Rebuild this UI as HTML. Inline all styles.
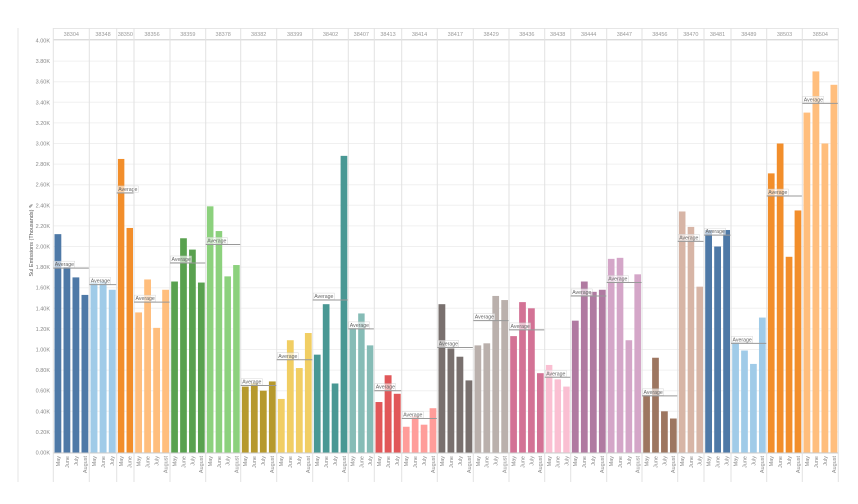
<!DOCTYPE html>
<html><head><meta charset="utf-8">
<style>
html,body{margin:0;padding:0;background:#fff;}
svg{display:block;font-family:"Liberation Sans",sans-serif;}
</style></head>
<body>
<svg id="c" width="858" height="504" viewBox="0 0 858 504" xmlns="http://www.w3.org/2000/svg"></svg>
<script>
const groups=[
["38304",53.3,89.3,"#4e79a7",[2.12,1.80,1.70,1.53],1.79],
["38348",89.3,116.7,"#a0cbe8",[1.65,1.66,1.58],1.63],
["38350",116.7,134,"#f28e2b",[2.85,2.18],2.52],
["38356",134,170,"#ffbe7d",[1.36,1.68,1.21,1.58],1.46],
["38359",170,205.7,"#59a14f",[1.66,2.08,1.97,1.65],1.84],
["38378",205.7,240.7,"#8cd17d",[2.39,2.15,1.71,1.82],2.02],
["38382",240.7,276.7,"#b6992d",[0.64,0.67,0.60,0.69],0.65],
["38399",276.7,312.7,"#f1ce63",[0.52,1.09,0.82,1.16],0.90],
["38402",312.7,348.3,"#499894",[0.95,1.44,0.67,2.88],1.48],
["38407",348.3,374.3,"#86bcb6",[1.21,1.35,1.04],1.20],
["38413",374.3,401.7,"#e15759",[0.49,0.75,0.57],0.60],
["38414",401.7,437.3,"#ff9d9a",[0.25,0.35,0.27,0.43],0.33],
["38417",437.3,473.3,"#79706e",[1.44,1.01,0.93,0.70],1.02],
["38429",473.3,509,"#bab0ac",[1.04,1.06,1.52,1.48],1.28],
["38436",509,544.7,"#d37295",[1.13,1.46,1.40,0.77],1.19],
["38438",544.7,570.7,"#fabfd2",[0.85,0.71,0.64],0.73],
["38444",570.7,606.7,"#b07aa1",[1.28,1.66,1.56,1.58],1.52],
["38447",606.7,642,"#d4a6c8",[1.88,1.89,1.09,1.73],1.65],
["38456",642,677.7,"#9d7660",[0.56,0.92,0.40,0.33],0.55],
["38470",677.7,704,"#d7b5a6",[2.34,2.19,1.61],2.05],
["38481",704,731,"#4e79a7",[2.16,2.00,2.16],2.11],
["38489",731,766.7,"#a0cbe8",[1.07,0.99,0.86,1.31],1.06],
["38503",766.7,802.3,"#f28e2b",[2.71,3.00,1.90,2.35],2.49],
["38504",802.3,838.3,"#ffbe7d",[3.30,3.70,3.00,3.57],3.39]];
const Z=452.5,K=103;
const months=["May","June","July","August"];
let s="";
// gridlines + y labels
for(let i=0;i<=20;i++){const v=i*0.2,y=Z-v*K;
 s+=`<line x1="53.3" x2="838.3" y1="${y}" y2="${y}" stroke="#f0f0f0" stroke-width="1"/>`;
 s+=`<text x="50" y="${y+2}" font-size="5.5" fill="#888" text-anchor="end">${v.toFixed(2)}K</text>`;}
// frame
s+=`<line x1="18" x2="18" y1="28" y2="482" stroke="#e6e6e6"/>`;
s+=`<line x1="53.3" x2="838.3" y1="28.5" y2="28.5" stroke="#e6e6e6"/>`;
s+=`<line x1="53.3" x2="838.3" y1="39.5" y2="39.5" stroke="#dcdcdc"/>`;
s+=`<line x1="53.3" x2="838.3" y1="${Z+0.5}" y2="${Z+0.5}" stroke="#ccc"/>`;
s+=`<text transform="translate(33,240) rotate(-90)" font-size="5.5" fill="#555" text-anchor="middle">Sul Emissions (Thousands) ✎</text>`;
groups.forEach(g=>{const [n,x0,x1,c,vals,avg]=g;
 s+=`<line x1="${x0}" x2="${x0}" y1="28" y2="482" stroke="#e2e2e2"/>`;
 s+=`<text x="${(x0+x1)/2}" y="36" font-size="5.5" fill="#999" text-anchor="middle">${n}</text>`;
 const w=(x1-x0)/vals.length;
 vals.forEach((v,i)=>{const bx=x0+i*w+1.2,bw=w-2.2,h=v*K;
  s+=`<rect x="${bx}" y="${Z-h}" width="${bw}" height="${h}" fill="${c}"/>`;
  const tx=x0+i*w+w/2+2;
  s+=`<text transform="translate(${tx},456) rotate(-90)" font-size="5.5" fill="#888" text-anchor="end">${months[i]}</text>`;});
 const ay=Z-avg*K;
 s+=`<rect x="${x0+0.5}" y="${ay-7}" width="21" height="6.5" fill="#fff" fill-opacity="0.6" stroke="#ccc" stroke-width="0.4"/>`;
 s+=`<text x="${x0+1.5}" y="${ay-2}" font-size="5.2" fill="#666">Average</text>`;
 s+=`<line x1="${x0}" x2="${x1}" y1="${ay}" y2="${ay}" stroke="#999" stroke-width="1"/>`;
});
s+=`<line x1="838.3" x2="838.3" y1="28" y2="482" stroke="#e2e2e2"/>`;
document.getElementById("c").innerHTML=s;
</script>
</body></html>
